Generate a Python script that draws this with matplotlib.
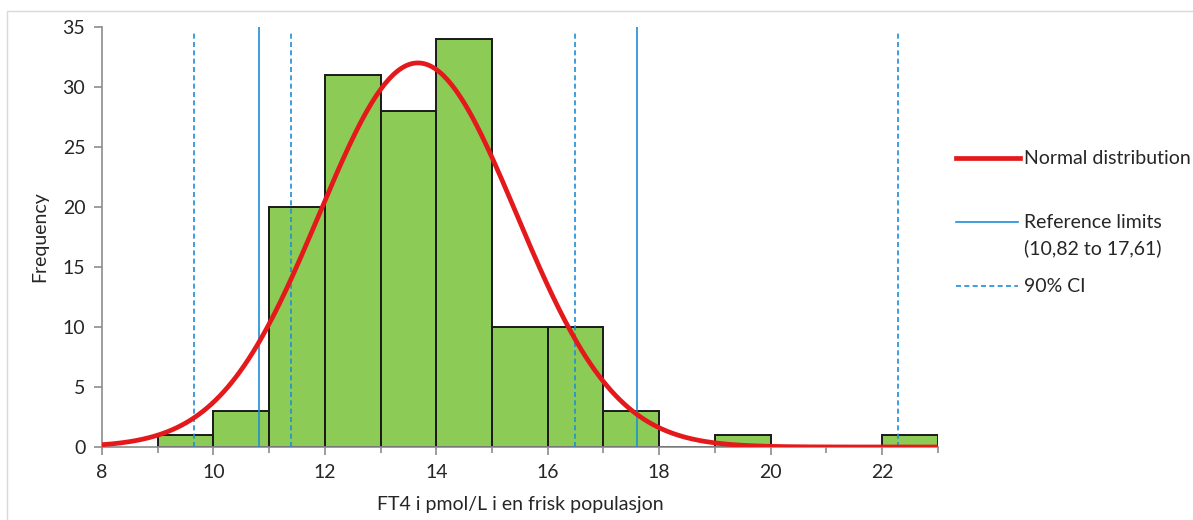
import numpy as np
import matplotlib.pyplot as plt
from matplotlib.lines import Line2D
from matplotlib.patches import Rectangle

# FT4 histogram, bins of 1 pmol/L
bin_edges = [9, 10, 11, 12, 13, 14, 15, 16, 17, 18, 19, 20, 21, 22, 23]
counts = [1, 3, 20, 31, 28, 34, 10, 10, 3, 0, 1, 0, 0, 1]

# fitted normal distribution
n_total = 142
fit_mean = 13.67
fit_sd = 1.77

ref_limits = [10.82, 17.61]
ci_lines = [9.65, 11.39, 16.49, 22.29]

x_ticks = [8, 10, 12, 14, 16, 18, 20, 22]
y_ticks = [0, 5, 10, 15, 20, 25, 30, 35]

plt.rcParams['font.family'] = ['Lato', 'DejaVu Sans']

GREEN = '#8dcb57'
RED = '#e4191b'
BLUE = '#1f8ed4'
GRID = '#8c8c8c'
TXT = '#262626'
FS = 14

fig = plt.figure(figsize=(11.93, 5.2), dpi=100)
ax = fig.add_axes([0.0855, 0.1404, 0.7005, 0.8077])

# chart area border
fig.add_artist(Rectangle((7 / 1193, -0.05), 1.2, 1 - 11 / 520 + 0.05,
                         transform=fig.transFigure, fill=False,
                         edgecolor='#d9d9d9', linewidth=1))

ax.bar(bin_edges[:-1], counts, width=1, align='edge', color=GREEN,
       edgecolor='#1a1a1a', linewidth=1.4, zorder=2)

xs = np.linspace(8, 23, 400)
pdf = n_total / (fit_sd * np.sqrt(2 * np.pi)) * np.exp(-0.5 * ((xs - fit_mean) / fit_sd) ** 2)
ax.plot(xs, pdf, color=RED, linewidth=3.4, zorder=4, solid_capstyle='butt')

for v in ref_limits:
    ax.plot([v, v], [0, 35], color=BLUE, linewidth=1.2, zorder=3)
for v in ci_lines:
    ax.plot([v, v], [0, 34.6], color=BLUE, linewidth=1.2, linestyle=(0, (3, 2)), zorder=3)

ax.set_xlim(8, 23)
ax.set_ylim(0, 35)
ax.set_xticks(x_ticks)
ax.set_xticks(np.arange(8, 24, 1), minor=True)
ax.set_yticks(y_ticks)

for side in ['top', 'right']:
    ax.spines[side].set_visible(False)
for side in ['left', 'bottom']:
    ax.spines[side].set_color(GRID)
    ax.spines[side].set_linewidth(1.2)

ax.tick_params(axis='both', which='major', direction='out', length=6,
               color=GRID, width=1.2, labelsize=FS, labelcolor=TXT, pad=6)
ax.tick_params(axis='x', which='minor', direction='out', length=4, color=GRID, width=1.2)
ax.tick_params(axis='y', which='minor', left=False)

ax.set_xlabel('FT4 i pmol/L i en frisk populasjon', fontsize=FS, color=TXT, labelpad=11)
ax.set_ylabel('Frequency', fontsize=FS, color=TXT, labelpad=10)

# legend on the right
W, H = 1193, 520
def fx(px):
    return px / W
def fy(py):
    return 1 - py / H

fig.add_artist(Line2D([fx(956), fx(1020)], [fy(158), fy(158)], color=RED, linewidth=3.4,
                      transform=fig.transFigure))
fig.text(fx(1024), fy(158), 'Normal distribution', fontsize=FS, color=TXT, va='center')

fig.add_artist(Line2D([fx(956), fx(1018)], [fy(222), fy(222)], color=BLUE, linewidth=1.2,
                      transform=fig.transFigure))
fig.text(fx(1024), fy(222), 'Reference limits', fontsize=FS, color=TXT, va='center')
fig.text(fx(1024), fy(248), '(10,82 to 17,61)', fontsize=FS, color=TXT, va='center')

fig.add_artist(Line2D([fx(956), fx(1018)], [fy(286), fy(286)], color=BLUE, linewidth=1.2,
                      linestyle=(0, (3, 2)), transform=fig.transFigure))
fig.text(fx(1024), fy(286), '90% CI', fontsize=FS, color=TXT, va='center')

fig.savefig('out.png', dpi=100)
